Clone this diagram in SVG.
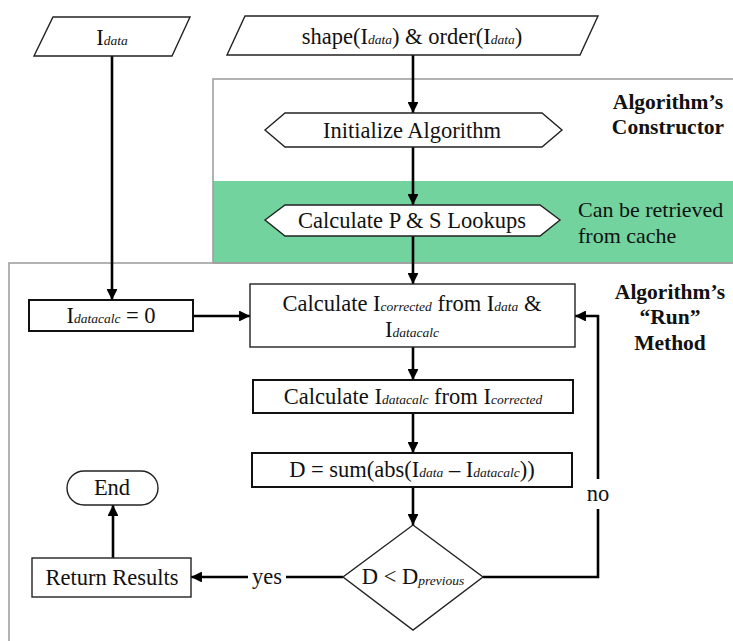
<svg xmlns="http://www.w3.org/2000/svg" width="733" height="641" viewBox="0 0 733 641" font-family="'Liberation Serif', 'DejaVu Serif', serif">
  <defs>
    <marker id="arrow" viewBox="0 0 10 10" refX="10" refY="5" markerWidth="4.2" markerHeight="4.2" markerUnits="strokeWidth" orient="auto">
      <path d="M0,0 L10,5 L0,10 z" fill="#000"/>
    </marker>
    <style>
      text { font-family: 'Liberation Serif', 'DejaVu Serif', serif; }
      .txt { font-size: 22.5px; fill: #111; text-anchor: middle; dominant-baseline: central; }
      .note { font-size: 22px; fill: #111; }
      .bold { font-size: 21.5px; font-weight: bold; fill: #111; text-anchor: middle; }
      .sub { font-style: italic; font-size: 13.5px; }
      .shape { fill: #fff; stroke: #222; stroke-width: 1.4; }
      .box { fill: #fff; stroke: #111; stroke-width: 2; }
      .region { fill: none; stroke: #a0a0a0; stroke-width: 1.6; }
      .conn { fill: none; stroke: #000; stroke-width: 2.6; }
    </style>
  </defs>

  <!-- regions: constructor and run method -->
  <g id="constructor-region">
    <rect x="213" y="79" width="530" height="102" fill="#fff"/>
    <rect x="213" y="181" width="530" height="82" fill="#72D39E"/>
    <rect class="region" x="213" y="79" width="530" height="184"/>
    <text class="bold" x="668" y="109">Algorithm’s</text>
    <text class="bold" x="668" y="134">Constructor</text>
    <text class="note" x="578" y="217">Can be retrieved</text>
    <text class="note" x="578" y="243">from cache</text>
  </g>
  <g id="run-region">
    <rect class="region" x="9" y="263" width="740" height="400"/>
    <text class="bold" x="670" y="299">Algorithm’s</text>
    <text class="bold" x="670" y="324">“Run”</text>
    <text class="bold" x="670" y="350">Method</text>
  </g>

  <!-- connectors -->
  <g id="connectors">
    <line class="conn" x1="112" y1="56" x2="112" y2="300" marker-end="url(#arrow)"/>
    <line class="conn" x1="413" y1="55" x2="413" y2="113" marker-end="url(#arrow)"/>
    <line class="conn" x1="413" y1="147" x2="413" y2="205" marker-end="url(#arrow)"/>
    <line class="conn" x1="413" y1="236" x2="413" y2="284" marker-end="url(#arrow)"/>
    <line class="conn" x1="193" y1="316" x2="250" y2="316" marker-end="url(#arrow)"/>
    <line class="conn" x1="413" y1="347" x2="413" y2="380" marker-end="url(#arrow)"/>
    <line class="conn" x1="413" y1="413" x2="413" y2="453" marker-end="url(#arrow)"/>
    <line class="conn" x1="413" y1="487" x2="413" y2="525" marker-end="url(#arrow)"/>
    <path class="conn" d="M483,577 H598 V316 H575" marker-end="url(#arrow)"/>
    <line class="conn" x1="343" y1="577" x2="191" y2="577" marker-end="url(#arrow)"/>
    <line class="conn" x1="113" y1="558" x2="113" y2="505" marker-end="url(#arrow)"/>
    <rect x="585" y="479" width="26" height="30" fill="#fff"/>
    <text class="txt" x="598" y="493">no</text>
    <rect x="248" y="565" width="38" height="24" fill="#fff"/>
    <text class="txt" x="267" y="576">yes</text>
  </g>

  <!-- nodes -->
  <g id="input-data">
    <polygon class="shape" points="53,17 190,17 172,56 34,56"/>
    <text class="txt" x="112" y="37">I<tspan class="sub" dy="3">data</tspan></text>
  </g>
  <g id="input-shape">
    <polygon class="shape" points="245,16 598,16 580,55 227,55"/>
    <text class="txt" x="412" y="36">shape(I<tspan class="sub" dy="3">data</tspan><tspan dy="-3">) &amp; order(I</tspan><tspan class="sub" dy="3">data</tspan><tspan dy="-3">)</tspan></text>
  </g>
  <g id="init-algorithm">
    <polygon class="shape" points="265,130 285,113 542,113 562,130 542,147 285,147"/>
    <text class="txt" x="412" y="130">Initialize Algorithm</text>
  </g>
  <g id="calc-lookups">
    <polygon class="shape" points="265,220 285,205 540,205 560,220 540,236 285,236"/>
    <text class="txt" x="412" y="220">Calculate P &amp; S Lookups</text>
  </g>
  <g id="init-datacalc">
    <rect class="box" x="29" y="300" width="164" height="31"/>
    <text class="txt" x="111" y="315">I<tspan class="sub" dy="3">datacalc</tspan><tspan dy="-3"> = 0</tspan></text>
  </g>
  <g id="calc-corrected">
    <rect class="shape" x="250" y="284" width="325" height="63"/>
    <text class="txt" x="412" y="303">Calculate I<tspan class="sub" dy="3">corrected</tspan><tspan dy="-3">  from I</tspan><tspan class="sub" dy="3">data</tspan><tspan dy="-3"> &amp;</tspan></text>
    <text class="txt" x="412" y="329">I<tspan class="sub" dy="3">datacalc</tspan></text>
  </g>
  <g id="calc-datacalc">
    <rect class="box" x="253" y="380" width="320" height="33"/>
    <text class="txt" x="413" y="396">Calculate I<tspan class="sub" dy="3">datacalc</tspan><tspan dy="-3"> from I</tspan><tspan class="sub" dy="3">corrected</tspan></text>
  </g>
  <g id="calc-difference">
    <rect class="box" x="252" y="453" width="320" height="34"/>
    <text class="txt" x="412" y="469">D = sum(abs(I<tspan class="sub" dy="3">data</tspan><tspan dy="-3"> – I</tspan><tspan class="sub" dy="3">datacalc</tspan><tspan dy="-3">))</tspan></text>
  </g>
  <g id="decision">
    <polygon class="shape" points="413,525 483,577 413,630 343,577"/>
    <text class="txt" x="413" y="576">D &lt; D<tspan class="sub" dy="4">previous</tspan></text>
  </g>
  <g id="return-results">
    <rect class="shape" x="32" y="558" width="159" height="39"/>
    <text class="txt" x="112" y="577">Return Results</text>
  </g>
  <g id="end">
    <rect class="shape" x="67" y="471" width="91" height="34" rx="17" ry="17"/>
    <text class="txt" x="112" y="487">End</text>
  </g>
</svg>
